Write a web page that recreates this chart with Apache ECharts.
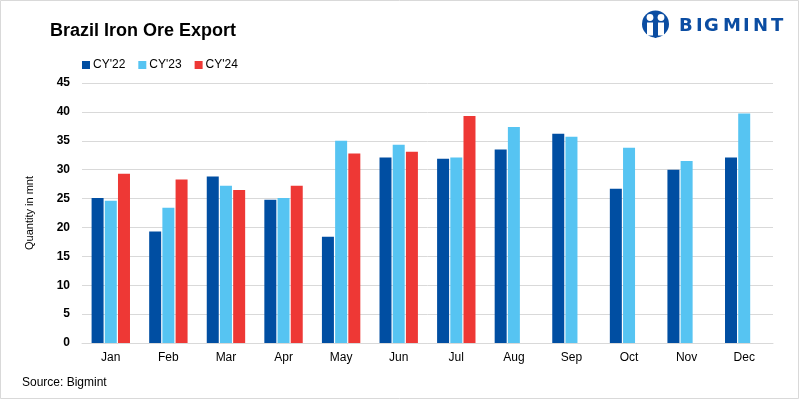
<!DOCTYPE html>
<html><head><meta charset="utf-8">
<script src="https://cdn.jsdelivr.net/npm/echarts@6/dist/echarts.min.js"></script>
<style>html,body{margin:0;padding:0;background:#fff}#c{width:801px;height:401px}</style>
</head><body><div id="c"></div>
<script>
const categories = ['Jan','Feb','Mar','Apr','May','Jun','Jul','Aug','Sep','Oct','Nov','Dec'];
const cy22 = [25.1,19.3,28.8,24.8,18.4,32.1,31.9,33.5,36.2,26.7,30.0,32.1];
const cy23 = [24.6,23.4,27.2,25.1,35.0,34.3,32.1,37.4,35.7,33.8,31.5,39.7];
const cy24 = [29.3,28.3,26.5,27.2,32.8,33.1,39.3,null,null,null,null,null];
const yTicks = [0,5,10,15,20,25,30,35,40,45];
const seriesNames = ["CY'22","CY'23","CY'24"];
const colors = ['#004EA2','#56C4F2','#EE3835'];

const chart = echarts.init(document.getElementById('c'), null, {renderer:'canvas'});
const logoLetters = 'BIGMINT'.split('');
const letterX = [679,696,704,723,743,753,771];
const graphics = [
  {type:'rect', shape:{x:0.5,y:0.5,width:798,height:398}, style:{fill:'none',stroke:'#d9d9d9',lineWidth:1}, silent:true},
  {type:'circle', shape:{cx:655.5,cy:24,r:13.5}, style:{fill:'#0B4DA2'}},
  {type:'circle', shape:{cx:650,cy:17.5,r:3.4}, style:{fill:'#fff'}},
  {type:'circle', shape:{cx:661,cy:17.5,r:3.4}, style:{fill:'#fff'}},
  {type:'rect', shape:{x:647,y:22.5,width:6,height:13}, style:{fill:'#fff'}},
  {type:'rect', shape:{x:658,y:22.5,width:6,height:13}, style:{fill:'#fff'}},
  {type:'rect', shape:{x:654.5,y:27,width:2,height:11}, style:{fill:'#0B4DA2'}}
];
logoLetters.forEach((ch,i)=>{
  graphics.push({type:'text', x:letterX[i], y:26, style:{text:ch, fill:'#0B4DA2', font:'bold 18px "DejaVu Sans", Arial, sans-serif', textAlign:'left', textVerticalAlign:'middle'}});
});
graphics.push({type:'text', x:22, y:383, style:{text:'Source: Bigmint', fill:'#000', font:'12px "Liberation Sans", Arial, sans-serif', textVerticalAlign:'middle'}});

chart.setOption({
  animation:false,
  backgroundColor:'#fff',
  title:{text:'Brazil Iron Ore Export', left:45, top:17,
    textStyle:{fontFamily:'"Liberation Sans", Arial, sans-serif', fontWeight:'bold', fontSize:18, color:'#000'}},
  legend:{data:seriesNames, left:77, top:54, itemWidth:8, itemHeight:8, itemGap:13, icon:'rect',
    textStyle:{fontFamily:'"Liberation Sans", Arial, sans-serif', fontSize:12, color:'#000', padding:[0,0,0,-2]}},
  grid:{left:82, right:28, top:83, bottom:58, containLabel:false},
  xAxis:{type:'category', data:categories,
    axisLine:{lineStyle:{color:'#d9d9d9'}}, axisTick:{show:false},
    axisLabel:{color:'#000', fontSize:12, fontFamily:'"Liberation Sans", Arial, sans-serif', margin:9}},
  yAxis:{type:'value', min:0, max:45, interval:5,
    name:'Quantity in mnt', nameLocation:'middle', nameGap:47, nameRotate:90,
    nameTextStyle:{color:'#000', fontSize:11, fontFamily:'"Liberation Sans", Arial, sans-serif'},
    axisLabel:{color:'#000', fontSize:12, fontWeight:'bold', fontFamily:'"Liberation Sans", Arial, sans-serif', margin:12,
      formatter:v=>yTicks.includes(v)?String(v):''},
    splitLine:{lineStyle:{color:'#d9d9d9'}}, axisLine:{show:false}, axisTick:{show:false}},
  series:[
    {name:seriesNames[0], type:'bar', data:cy22, itemStyle:{color:colors[0]}, barWidth:12, barGap:'10%'},
    {name:seriesNames[1], type:'bar', data:cy23, itemStyle:{color:colors[1]}, barWidth:12, barGap:'10%'},
    {name:seriesNames[2], type:'bar', data:cy24, itemStyle:{color:colors[2]}, barWidth:12, barGap:'10%'}
  ],
  graphic:graphics
});
</script></body></html>
